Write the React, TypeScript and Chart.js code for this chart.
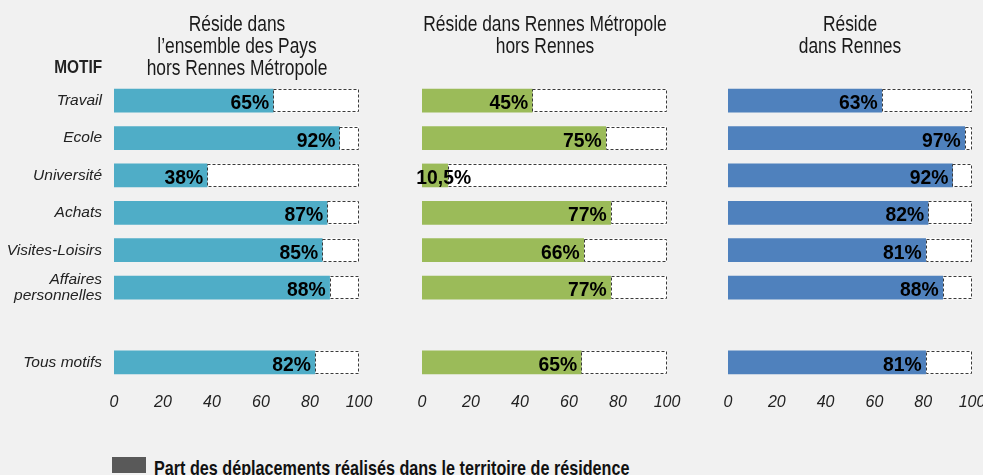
import React, { useEffect, useRef } from 'react';
import { Chart, registerables } from 'chart.js';

Chart.register(...registerables);

const categories: (string | string[])[] = [
  'Travail',
  'Ecole',
  'Université',
  'Achats',
  'Visites-Loisirs',
  ['Affaires', 'personnelles'],
  '',
  'Tous motifs',
];
const paysValues: (number | null)[] = [65, 92, 38, 87, 85, 88, null, 82];
const metropoleValues: (number | null)[] = [45, 75, 10.5, 77, 66, 77, null, 65];
const rennesValues: (number | null)[] = [63, 97, 92, 82, 81, 88, null, 81];
const xTicks = [0, 20, 40, 60, 80, 100];
const panelTitles: string[][] = [
  ['Réside dans', 'l’ensemble des Pays', 'hors Rennes Métropole'],
  ['Réside dans Rennes Métropole', 'hors Rennes'],
  ['Réside', 'dans Rennes'],
];
const axisTitle = 'MOTIF';
const legendText = 'Part des déplacements réalisés dans le territoire de résidence';

const FONT = '"Liberation Sans", Arial, sans-serif';
const BG = '#F1F1F1';

const fmt = (v: number) => String(v).replace('.', ',') + '%';

const dashPlugin = {
  id: 'dashBoxes',
  afterDatasetsDraw(chart: any) {
    const meta = chart.getDatasetMeta(1);
    const ctx = chart.ctx;
    ctx.save();
    ctx.strokeStyle = '#3a3a3a';
    ctx.lineWidth = 1;
    ctx.setLineDash([3, 2]);
    meta.data.forEach((el: any, i: number) => {
      const v = chart.data.datasets[1].data[i];
      if (v == null) return;
      const { x, y, base, height } = el.getProps(['x', 'y', 'base', 'height'], true);
      const x0 = Math.round(base) + 0.5;
      const x1 = Math.round(x) - 0.5;
      const y0 = Math.round(y - height / 2) + 0.5;
      const y1 = Math.round(y + height / 2) - 0.5;
      ctx.strokeRect(x0, y0, x1 - x0, y1 - y0);
    });
    ctx.restore();
  },
};

const LABEL_SCALE = 0.92;
const labelPlugin = {
  id: 'pctLabels',
  afterDatasetsDraw(chart: any) {
    const meta = chart.getDatasetMeta(0);
    const ctx = chart.ctx;
    meta.data.forEach((el: any, i: number) => {
      const v = chart.data.datasets[0].data[i];
      if (v == null) return;
      const { x, y, base } = el.getProps(['x', 'y', 'base'], true);
      const txt = fmt(v);
      ctx.save();
      ctx.font = `bold 21px ${FONT}`;
      ctx.fillStyle = '#000';
      ctx.textBaseline = 'alphabetic';
      const w = ctx.measureText(txt).width * LABEL_SCALE;
      ctx.translate(x - 4, y + 8.5);
      ctx.scale(LABEL_SCALE, 1);
      ctx.textAlign = w > x - base - 6 ? 'center' : 'right';
      ctx.fillText(txt, 0, 0);
      ctx.restore();
    });
  },
};

type PanelProps = {
  values: (number | null)[];
  color: string;
  showY: boolean;
  left: number;
  width: number;
  padLeft: number;
  padRight: number;
};

function Panel({ values, color, showY, left, width, padLeft, padRight }: PanelProps) {
  const ref = useRef<HTMLCanvasElement | null>(null);
  useEffect(() => {
    if (!ref.current) return;
    const chart = new Chart(ref.current, {
      type: 'bar',
      data: {
        labels: categories as any,
        datasets: [
          {
            data: values as any,
            backgroundColor: color,
            borderWidth: 0,
            barThickness: 23,
            stack: 's',
          },
          {
            data: values.map((v) => (v == null ? null : 100 - v)) as any,
            backgroundColor: '#FFFFFF',
            borderWidth: 0,
            barThickness: 23,
            stack: 's',
          },
        ],
      },
      options: {
        indexAxis: 'y',
        animation: false,
        responsive: false,
        maintainAspectRatio: false,
        layout: { padding: { left: padLeft, right: padRight, top: 82, bottom: 0 } },
        plugins: { legend: { display: false }, tooltip: { enabled: false }, title: { display: false } },
        scales: {
          x: {
            stacked: true,
            min: 0,
            max: 100,
            afterBuildTicks: (s: any) => {
              s.ticks = xTicks.map((v) => ({ value: v }));
            },
            grid: { display: false },
            border: { display: false },
            ticks: {
              font: { family: FONT, size: 16, style: 'italic' },
              color: '#222',
              padding: 4,
              maxRotation: 0,
              autoSkip: false,
            },
            afterFit: (s: any) => {
              s.height = 40;
            },
          },
          y: {
            stacked: true,
            display: showY,
            grid: { display: false, drawTicks: false },
            border: { display: false },
            ticks: {
              font: { family: FONT, size: 15.5, style: 'italic', lineHeight: 1.08 },
              color: '#222',
              padding: 12,
              autoSkip: false,
            },
            afterFit: (s: any) => {
              if (showY) s.width = 114;
            },
          },
        },
      } as any,
      plugins: [dashPlugin, labelPlugin],
    });
    return () => chart.destroy();
  }, []);
  return (
    <canvas
      ref={ref}
      width={width}
      height={421}
      style={{ position: 'absolute', left, top: 0, width, height: 421 }}
    />
  );
}

function Title({ lines, center }: { lines: string[]; center: number }) {
  return (
    <div
      style={{
        position: 'absolute',
        left: center - 200,
        width: 400,
        top: 13,
        textAlign: 'center',
        fontFamily: FONT,
        fontSize: 22,
        lineHeight: '22px',
        color: '#1a1a1a',
        transform: 'scaleX(0.79)',
        transformOrigin: '50% 0',
        whiteSpace: 'nowrap',
      }}
    >
      {lines.map((l, i) => (
        <div key={i}>{l}</div>
      ))}
    </div>
  );
}

export default function App() {
  return (
    <div
      style={{
        position: 'absolute',
        left: 0,
        top: 0,
        width: 983,
        height: 475,
        overflow: 'hidden',
        background: BG,
      }}
    >
      <Panel values={paysValues} color="#4FADC7" showY={true} left={0} width={383} padLeft={0} padRight={24} />
      <Panel values={metropoleValues} color="#9BBB59" showY={false} left={398} width={293} padLeft={24} padRight={24} />
      <Panel values={rennesValues} color="#4F81BD" showY={false} left={704} width={292} padLeft={24} padRight={24} />
      <Title lines={panelTitles[0]} center={236.5} />
      <Title lines={panelTitles[1]} center={544.5} />
      <Title lines={panelTitles[2]} center={850} />
      <div
        style={{
          position: 'absolute',
          right: 983 - 102,
          top: 57,
          fontFamily: FONT,
          fontWeight: 'bold',
          fontSize: 19,
          lineHeight: '19px',
          color: '#222',
          transform: 'scaleX(0.81)',
          transformOrigin: '100% 0',
          whiteSpace: 'nowrap',
        }}
      >
        {axisTitle}
      </div>
      <div style={{ position: 'absolute', left: 112, top: 457, width: 34, height: 16, background: '#595959' }} />
      <div
        style={{
          position: 'absolute',
          left: 154,
          top: 457,
          fontFamily: FONT,
          fontWeight: 'bold',
          fontSize: 21,
          lineHeight: '21px',
          color: '#111',
          whiteSpace: 'nowrap',
          transform: 'scaleX(0.77)',
          transformOrigin: '0 0',
        }}
      >
        {legendText}
      </div>
    </div>
  );
}
